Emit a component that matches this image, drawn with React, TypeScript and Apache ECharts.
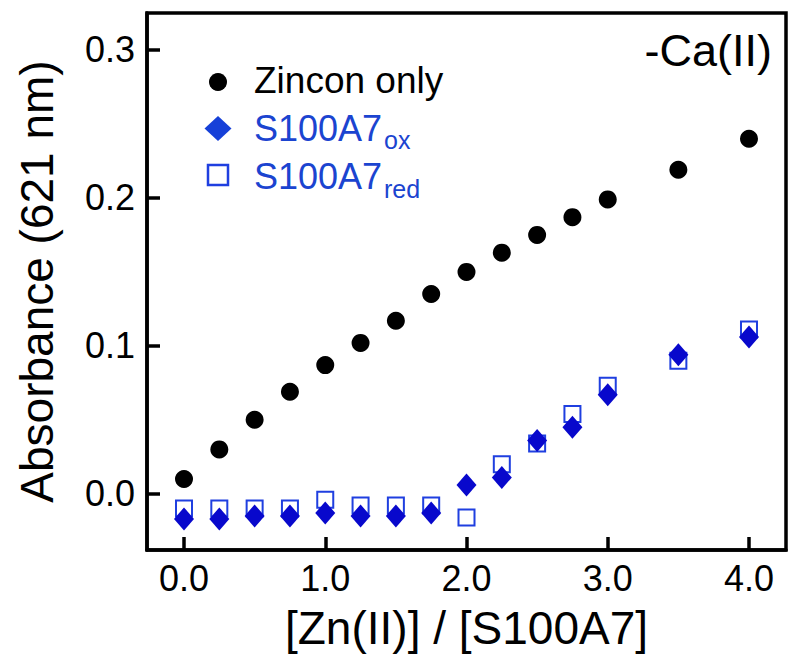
import React, { useEffect, useRef } from "react";
import * as echarts from "echarts";

const ratios = [0, 0.25, 0.5, 0.75, 1.0, 1.25, 1.5, 1.75, 2.0, 2.25, 2.5, 2.75, 3.0, 3.5, 4.0];
const zinconOnly = [0.010, 0.030, 0.050, 0.069, 0.087, 0.102, 0.117, 0.135, 0.150, 0.163, 0.175, 0.187, 0.199, 0.219, 0.240];
const s100a7ox = [-0.017, -0.017, -0.015, -0.015, -0.013, -0.015, -0.015, -0.013, 0.006, 0.011, 0.036, 0.045, 0.067, 0.094, 0.106];
const s100a7red = [-0.010, -0.010, -0.010, -0.010, -0.004, -0.008, -0.008, -0.008, -0.016, 0.020, 0.034, 0.054, 0.073, 0.090, 0.111];
const xTicks = [0, 1, 2, 3, 4];
const yTicks = [0, 0.1, 0.2, 0.3];

const FONT = "'Liberation Sans', Arial, Helvetica, sans-serif";
const BLACK = "#000000";
const OX_BLUE = "#0808cc";
const RED_BLUE = "#1f3fe0";
const LEG_BLUE = "#1b44d0";

export default function App() {
  const ref = useRef<HTMLDivElement>(null);
  useEffect(() => {
    if (!ref.current) return;
    const chart = echarts.init(ref.current, null, { renderer: "svg" });
    const pairs = (ys: number[]) => ratios.map((x, i) => [x, ys[i]]);
    chart.setOption({
      animation: false,
      backgroundColor: "#ffffff",
      textStyle: { fontFamily: FONT },
      grid: {
        left: 147,
        right: 14,
        top: 13,
        bottom: 112,
        show: true,
        borderColor: BLACK,
        borderWidth: 3.5,
        backgroundColor: "transparent",
      },
      xAxis: {
        type: "value",
        min: -0.262,
        max: 4.262,
        name: "[Zn(II)] / [S100A7]",
        nameLocation: "middle",
        nameGap: 55,
        nameTextStyle: { fontSize: 46, color: BLACK, fontFamily: FONT },
        axisLine: { show: true, onZero: false, lineStyle: { color: BLACK, width: 3.5 } },
        axisTick: { show: true, inside: true, length: 13, customValues: xTicks, lineStyle: { color: BLACK, width: 3.5 } },
        axisLabel: {
          show: true,
          customValues: xTicks,
          fontSize: 36,
          color: BLACK,
          fontFamily: FONT,
          margin: 10,
          formatter: (v: number) => v.toFixed(1),
        },
        splitLine: { show: false },
      },
      yAxis: {
        type: "value",
        min: -0.038,
        max: 0.325,
        name: "Absorbance (621 nm)",
        nameLocation: "middle",
        nameGap: 87,
        nameTextStyle: { fontSize: 46, color: BLACK, fontFamily: FONT },
        axisLine: { show: true, onZero: false, lineStyle: { color: BLACK, width: 3.5 } },
        axisTick: { show: true, inside: true, length: 13, customValues: yTicks, lineStyle: { color: BLACK, width: 3.5 } },
        axisLabel: {
          show: true,
          customValues: yTicks,
          fontSize: 36,
          color: BLACK,
          fontFamily: FONT,
          margin: 12,
          formatter: (v: number) => v.toFixed(1),
        },
        splitLine: { show: false },
      },
      series: [
        {
          name: "Zincon only",
          type: "scatter",
          symbol: "circle",
          symbolSize: 18,
          itemStyle: { color: BLACK, opacity: 1 },
          data: pairs(zinconOnly),
        },
        {
          name: "S100A7red",
          type: "scatter",
          symbol: "rect",
          symbolSize: 16,
          itemStyle: { color: "rgba(255,255,255,0)", borderColor: RED_BLUE, borderWidth: 2, opacity: 1 },
          data: pairs(s100a7red),
        },
        {
          name: "S100A7ox",
          type: "scatter",
          symbol: "diamond",
          symbolSize: [20, 23],
          itemStyle: { color: OX_BLUE, opacity: 1 },
          data: pairs(s100a7ox),
        },
      ],
      graphic: [
        {
          type: "text",
          right: 28,
          top: 28,
          style: { text: "-Ca(II)", fontSize: 45, fill: BLACK, fontFamily: FONT },
        },
        { type: "circle", shape: { cx: 218, cy: 82, r: 9 }, style: { fill: BLACK } },
        {
          type: "polygon",
          shape: { points: [[204.5, 128.5], [218, 116], [231.5, 128.5], [218, 141]] },
          style: { fill: "#1640d8" },
        },
        {
          type: "rect",
          shape: { x: 208, y: 165, width: 20, height: 20 },
          style: { fill: "transparent", stroke: RED_BLUE, lineWidth: 2.5 },
        },
        {
          type: "text",
          x: 254,
          y: 80,
          style: { text: "Zincon only", fontSize: 37, fill: BLACK, fontFamily: FONT, verticalAlign: "middle", align: "left" },
        },
        {
          type: "text",
          x: 254,
          y: 128,
          style: { text: "S100A7", fontSize: 36, fill: LEG_BLUE, fontFamily: FONT, verticalAlign: "middle", align: "left" },
        },
        {
          type: "text",
          x: 384,
          y: 140,
          style: { text: "ox", fontSize: 25, fill: LEG_BLUE, fontFamily: FONT, verticalAlign: "middle", align: "left" },
        },
        {
          type: "text",
          x: 254,
          y: 176,
          style: { text: "S100A7", fontSize: 36, fill: LEG_BLUE, fontFamily: FONT, verticalAlign: "middle", align: "left" },
        },
        {
          type: "text",
          x: 384,
          y: 189,
          style: { text: "red", fontSize: 25, fill: LEG_BLUE, fontFamily: FONT, verticalAlign: "middle", align: "left" },
        },
      ],
    });
    return () => chart.dispose();
  }, []);
  return (
    <div
      ref={ref}
      style={{ position: "fixed", left: 0, top: 0, width: 800, height: 662, background: "#ffffff" }}
    />
  );
}
